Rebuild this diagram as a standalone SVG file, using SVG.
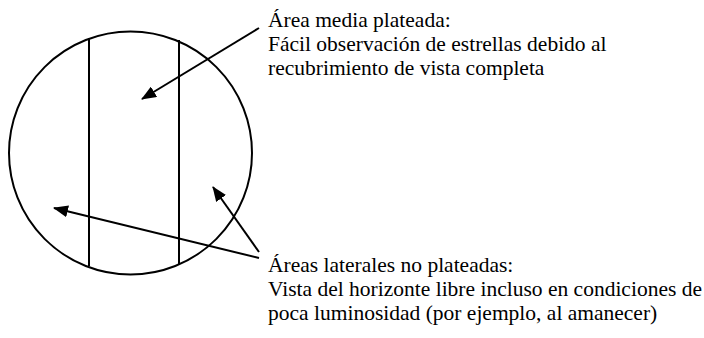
<svg xmlns="http://www.w3.org/2000/svg" width="704" height="338" viewBox="0 0 704 338">
<defs>
<marker id="ah" markerWidth="15" markerHeight="12" refX="14" refY="6" orient="auto" markerUnits="userSpaceOnUse">
<path d="M0,0 L15,6 L0,12 Z" fill="#000"/>
</marker>
</defs>
<rect width="704" height="338" fill="#fff"/>
<g id="lens" stroke="#000" stroke-width="2" fill="none">
<circle cx="130.5" cy="153" r="121.5"/>
<line x1="89" y1="38" x2="89" y2="266"/>
<line x1="179" y1="40" x2="179" y2="264"/>
</g>
<g id="connectors" stroke="#000" stroke-width="2" fill="none">
<line x1="259" y1="28" x2="142" y2="99" marker-end="url(#ah)"/>
<line x1="259" y1="258" x2="54" y2="208" marker-end="url(#ah)"/>
<line x1="259" y1="252" x2="213" y2="187" marker-end="url(#ah)"/>
</g>
<g id="label-middle">
<text x="268" y="27" font-family="Liberation Serif" font-size="21.5">Área media plateada:</text>
<text x="268" y="51" font-family="Liberation Serif" font-size="21.5">Fácil observación de estrellas debido al</text>
<text x="268" y="75" font-family="Liberation Serif" font-size="21.5">recubrimiento de vista completa</text>
</g>
<g id="label-sides">
<text x="268" y="272" font-family="Liberation Serif" font-size="21.5">Áreas laterales no plateadas:</text>
<text x="268" y="296" font-family="Liberation Serif" font-size="21.5">Vista del horizonte libre incluso en condiciones de</text>
<text x="268" y="320" font-family="Liberation Serif" font-size="21.5">poca luminosidad (por ejemplo, al amanecer)</text>
</g>
</svg>
